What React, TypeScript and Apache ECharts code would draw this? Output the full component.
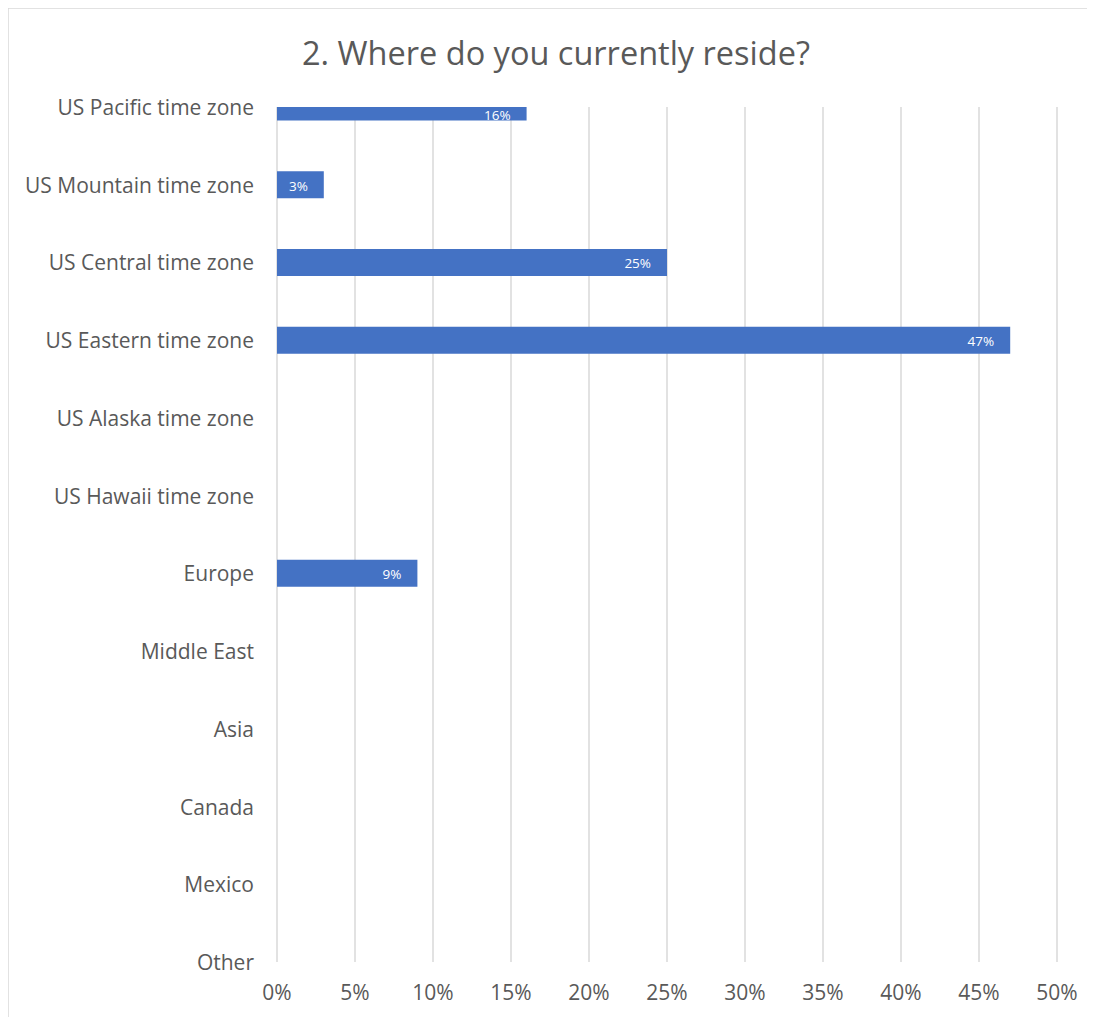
import React, { useEffect, useRef } from "react";
import * as echarts from "echarts";

const titleText = "2. Where do you currently reside?";
const categories = [
  "US Pacific time zone",
  "US Mountain time zone",
  "US Central time zone",
  "US Eastern time zone",
  "US Alaska time zone",
  "US Hawaii time zone",
  "Europe",
  "Middle East",
  "Asia",
  "Canada",
  "Mexico",
  "Other",
];
const values = [16, 3, 25, 47, 0, 0, 9, 0, 0, 0, 0, 0];
const xMin = 0;
const xMax = 50;
const xStep = 5;

const W = 1087;
const H = 1009;
const FONT = "'Open Sans', sans-serif";
const BAR_H = 27;
const BAR_COLOR = "#4472c4";

export default function App() {
  const ref = useRef<HTMLDivElement>(null);
  useEffect(() => {
    if (!ref.current) return;
    const chart = echarts.init(ref.current, null, { renderer: "svg" });
    const seriesData = values.map((v, i) => [v, i]);
    chart.setOption({
      animation: false,
      backgroundColor: "#ffffff",
      graphic: [
        {
          type: "rect",
          shape: { x: 0, y: 0, width: W + 20, height: H + 20 },
          style: { fill: "none", stroke: "#d9d9d9", lineWidth: 1.5 },
          silent: true,
        },
        {
          type: "text",
          x: 548,
          y: 44,
          style: {
            text: titleText,
            fill: "#595959",
            font: `32.5px ${FONT}`,
            textAlign: "center",
            textVerticalAlign: "middle",
          },
        },
      ],
      grid: { left: 269, right: W - 1049, top: 99, bottom: H - 954, containLabel: false },
      xAxis: {
        type: "value",
        min: xMin,
        max: xMax,
        interval: xStep,
        axisLine: { show: false },
        axisTick: { show: false },
        splitLine: { show: true, lineStyle: { color: "#d9d9d9", width: 1.5 } },
        axisLabel: {
          formatter: (v: number) => `${v}%`,
          color: "#595959",
          fontSize: 21,
          fontFamily: FONT,
          margin: 19,
        },
      },
      yAxis: {
        type: "category",
        data: categories,
        inverse: true,
        boundaryGap: false,
        axisLine: { show: false },
        axisTick: { show: false },
        splitLine: { show: false },
        axisLabel: {
          color: "#595959",
          fontSize: 21,
          fontFamily: FONT,
          margin: 23,
          interval: 0,
        },
      },
      series: [
        {
          type: "custom",
          data: seriesData,
          encode: { x: 0, y: 1 },
          renderItem: (params: any, api: any) => {
            const v = api.value(0);
            if (!v) return null;
            const cat = api.value(1);
            const start = api.coord([0, cat]);
            const end = api.coord([v, cat]);
            const cs = params.coordSys;
            const rect = echarts.graphic.clipRectByRect(
              {
                x: start[0],
                y: start[1] - BAR_H / 2,
                width: end[0] - start[0],
                height: BAR_H,
              },
              { x: cs.x, y: cs.y, width: cs.width, height: cs.height }
            );
            if (!rect) return null;
            return {
              type: "group",
              children: [
                {
                  type: "rect",
                  shape: rect,
                  style: { fill: BAR_COLOR },
                },
                {
                  type: "text",
                  x: rect.x + rect.width - 16,
                  y: rect.y + rect.height / 2 + 1,
                  style: {
                    text: `${v}%`,
                    fill: "#ffffff",
                    font: `13.5px ${FONT}`,
                    textAlign: "right",
                    textVerticalAlign: "middle",
                  },
                },
              ],
            };
          },
        },
      ],
    });
    return () => chart.dispose();
  }, []);
  return <div ref={ref} style={{ width: W, height: H }} />;
}
